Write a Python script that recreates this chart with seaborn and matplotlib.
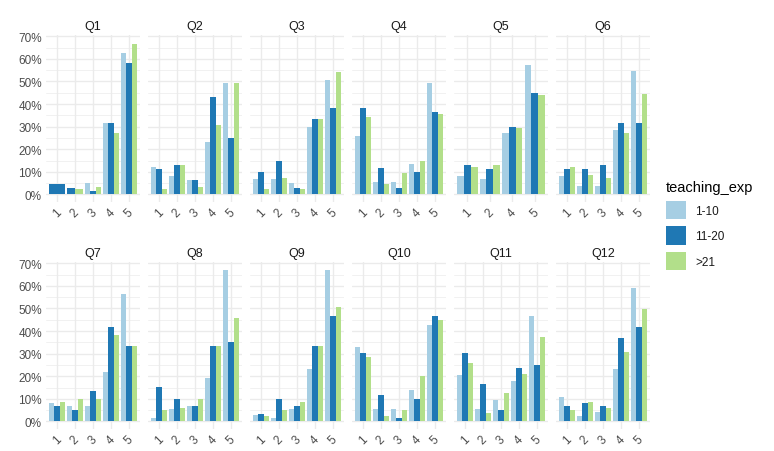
import numpy as np
import pandas as pd
import matplotlib
matplotlib.use("Agg")
import matplotlib.pyplot as plt
from matplotlib.patches import Patch
from matplotlib.ticker import PercentFormatter, MultipleLocator
import seaborn as sns
import seaborn.objects as so

questions = [f"Q{i}" for i in range(1, 13)]
levels = [1, 2, 3, 4, 5]
groups = ["1-10", "11-20", ">21"]
colors = ["#A6CEE3", "#1F78B4", "#B2DF8A"]

# share of answers (%) per level 1..5, one row per question; None = no answers
exp_1_10 = [
    [None, None, 5.2, 31.4, 62.7],
    [12.1, 8.1, 6.5, 23.2, 49.1],
    [6.6, 6.6, 5.2, 29.8, 50.5],
    [25.8, 5.3, 5.3, 13.4, 49.2],
    [8.1, 6.6, None, 27.2, 57.4],
    [8.1, 3.9, 3.9, 28.6, 54.5],
    [8.1, 6.8, 6.8, 22.0, 56.3],
    [1.4, 5.5, 6.6, 19.1, 67.2],
    [2.7, 1.4, 5.5, 23.3, 67.2],
    [32.9, 5.5, 5.5, 13.8, 42.6],
    [20.4, 5.5, 9.6, 18.0, 46.8],
    [10.9, 2.6, 4.0, 23.3, 59.0],
]
exp_11_20 = [
    [4.6, 3.0, 1.3, 31.4, 58.3],
    [11.2, 13.1, 6.5, 43.3, 24.9],
    [9.8, 15.0, 3.0, 33.4, 38.1],
    [38.3, 11.5, 3.0, 9.8, 36.5],
    [13.1, 11.4, None, 29.8, 44.9],
    [11.4, 11.4, 13.1, 31.5, 31.5],
    [6.6, 5.0, 13.4, 41.7, 33.4],
    [15.1, 10.1, 6.6, 33.4, 35.0],
    [3.3, 10.1, 6.6, 33.4, 46.8],
    [30.2, 11.8, 1.7, 10.1, 46.8],
    [30.1, 16.7, 5.0, 23.5, 25.0],
    [6.6, 8.2, 6.8, 36.8, 41.7],
]
exp_21 = [
    [None, 2.2, 3.5, 27.0, 66.5],
    [2.2, 13.2, 3.3, 30.6, 49.1],
    [2.2, 7.1, 2.2, 33.4, 54.2],
    [34.2, 4.7, 9.6, 14.7, 35.7],
    [12.1, 13.2, None, 29.4, 44.2],
    [12.1, 8.5, 7.1, 27.1, 44.3],
    [8.6, 10.1, 10.1, 38.3, 33.4],
    [4.9, 6.0, 10.1, 33.4, 45.8],
    [2.3, 4.9, 8.6, 33.4, 50.6],
    [28.6, 2.3, 4.9, 20.0, 44.7],
    [26.0, 3.7, 12.4, 21.0, 37.3],
    [4.9, 8.5, 6.0, 30.8, 49.6],
]

rows = []
for g, table in zip(groups, [exp_1_10, exp_11_20, exp_21]):
    for q, vals in zip(questions, table):
        for lv, v in zip(levels, vals):
            if v is not None:
                rows.append({"question": q, "level": lv, "teaching_exp": g, "pct": v})
df = pd.DataFrame(rows).sort_values(["question", "level"])

plt.rcParams["font.family"] = ["Liberation Sans", "DejaVu Sans"]

fig = plt.figure(figsize=(7.74, 4.52), dpi=100)
(
    so.Plot(df, x="level", y="pct", color="teaching_exp")
    .facet(col="question", wrap=6, order=questions)
    .share(x=False)
    .add(so.Bar(width=0.9, alpha=1, edgewidth=0), so.Dodge(empty="fill"))
    .scale(x=so.Nominal(), color=so.Nominal(dict(zip(groups, colors)), order=groups))
    .theme({**sns.axes_style("white"), "font.family": ["Liberation Sans", "DejaVu Sans"]})
    .on(fig)
    .plot()
)
fig.legends.clear()

grid_col = "#EBEBEB"
W, H = 774, 452
for i, ax in enumerate(fig.axes[:12]):
    r, c = divmod(i, 6)
    top = 36 if r == 0 else 263
    ax.set_position([(46 + c * 102) / W, 1 - (top + 167) / H, 94 / W, 167 / H])
    n = len(ax.get_xticks())
    ax.set_xlim(-0.6, n - 0.4)
    ax.set_ylim(-3.36, 70.56)
    ax.yaxis.set_major_locator(MultipleLocator(10))
    ax.yaxis.set_minor_locator(MultipleLocator(5))
    ax.yaxis.set_major_formatter(PercentFormatter(100, decimals=0))
    ax.set_facecolor("white")
    for s in ax.spines.values():
        s.set_visible(False)
    ax.set_axisbelow(True)
    ax.grid(True, which="major", color=grid_col, lw=1.0)
    ax.grid(True, which="minor", axis="y", color=grid_col, lw=0.5)
    ax.tick_params(which="both", length=0, labelsize=8.5, colors="#4D4D4D", pad=3)
    ax.tick_params(axis="x", labelrotation=45)
    ax.tick_params(axis="y", labelleft=(c == 0))
    ax.set_xlabel("")
    ax.set_ylabel("")
    ax.set_title(questions[i], fontsize=9, color="#1A1A1A", pad=4)

leg = fig.legend(
    handles=[Patch(facecolor=col, label=g) for g, col in zip(groups, colors)],
    title="teaching_exp", loc="center left", bbox_to_anchor=(655 / W, 0.5),
    frameon=False, fontsize=8.5, title_fontsize=10.5,
    handlelength=1.7, handleheight=2.0, labelspacing=0.6, handletextpad=0.8,
)
leg._legend_box.align = "left"
for t in leg.get_texts():
    t.set_color("#1A1A1A")

fig.savefig("out.png", dpi=100, facecolor="white")
